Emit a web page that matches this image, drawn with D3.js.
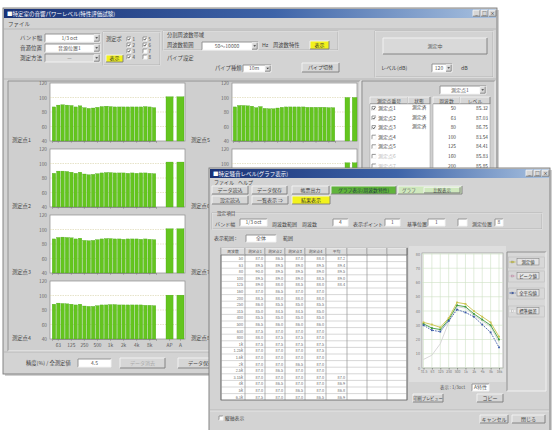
<!DOCTYPE html>
<html><head><meta charset="utf-8">
<script src="https://cdn.jsdelivr.net/npm/d3@7"></script>
<style>
body{margin:0;background:#fff;}
svg{display:block;}
text{font-family:"Noto Sans CJK JP","Noto Sans",sans-serif;}
</style>
</head><body>
<svg id="c" width="552" height="430"></svg>
<script>
// ---------------- DATA ----------------
const bandLabels = ["50","63","80","100","125","160","200","250","315","400","500","630","800","1k","1.25k","1.6k","2k","2.5k","3.15k","4k","5k","6.3k","8k","10k"];
const overallLabels = ["AP","A"];
const tickBands = ["63","125","250","500","1k","2k","4k","8k"];
const yTicks = [40,60,80,100,120];
const gridLevels = [60,80,100];
const pointNames = ["測定点1","測定点2","測定点3","測定点4","測定点5","測定点6","測定点7","測定点8"];
const levelsP1 = [87,89.5,90,89.5,89,87,88.5,86,85,85.5,86.5,87.5,88,87.5,87,87,87,87,87,87,87,87.5,87,86];
const levelsP2 = [86.5,89.5,89.5,89,88,86.5,88,85.5,84.5,85,86,87,87.5,87.5,87,87,87,86.5,87,86.5,87,87,86.5,86];
const levelsP3 = [87,89,89.5,89,88.5,87,88,85,84.5,85,86,87,87.5,87.5,87,87,86.5,87,87,87,86.5,87,86.5,86];
const levelsP4 = [88,89.5,89,88.5,88,87,88,85.5,85,85,86,87,87,87.5,87.5,87,87,87,87,87,87,86.5,86.5,86];
const levelsP5 = [87,89,89,88.5,88,86,87.5,85,84.5,84.5,85.5,86.5,87,87,87,87,87,86.5,86.5,86.5,86.5,86.5,86,86];
const levelsP6 = [86.5,88.5,89,88.5,87.5,86,87.5,85,84.5,85,85.5,86.5,87,87,86.5,87,86.5,86.5,86.5,86.5,86.5,86.5,86,85.5];
const levelsP7 = [87,89,89.5,89,88,86.5,88,85.5,85,85,86,87,87,87.5,87,87,87,87,86.5,87,86.5,87,86.5,86];
const levelsP8 = [86.5,89,89,88.5,88,86.5,87.5,85,84.5,85,86,86.5,87,87,87,86.5,87,86.5,86.5,86.5,86.5,86.5,86,85.5];
const overallP1 = [101,101], overallP2 = [102,102], overallP3 = [101,101], overallP4 = [100.5,100.5];
const overallP5 = [100,100], overallP6 = [101,101], overallP7 = [100.5,100.5], overallP8 = [100,100];

const listPoints = ["測定点1","測定点2","測定点3","測定点4","測定点5","測定点6","測定点7"];
const listStatus = ["測定済","測定済","測定済","","","",""];
const listChecked = [true,true,true,false,false,false,false];
const listFreqs = ["50","63","80","100","125","160","200","250"];
const listLevels = ["85.32","87.03","86.75","83.54","84.41","85.83","85.85","83.11"];

const tableHeaders = ["周波数","測定点1","測定点2","測定点3","測定点4","平均","","",""];
const tableFreqs = ["50","63","80","100","125","160","200","250","315","400","500","630","800","1k","1.25k","1.6k","2k","2.5k","3.15k","4k","5k","6.3k"];
const tableAvg = ["87.2","89.4","89.5","89.0","88.4","","","","","","","","","","","","","","87.0","86.9","86.8","86.9"];

const lineCats = ["31.5","63","125","250","500","1k","2k","4k","8k","16k"];
const lineYTicks = [0,10,20,30,40,50,60,70,80];
const seriesMeasured = [32,30.5,28.5,35,46,45,40,36,32,22];
const seriesPeak = [31,28,27,34,44,43,38,34,30,20];
const seriesMean = [30,26.5,25.5,33,41,39,36,30.5,25,14.5];
const seriesLow = [6,9,17,32,43,42,37,33,29,18];
const legendLabels = ["測定値","ピーク値","全平均値","標準偏差"];

// ---------------- HELPERS ----------------
const svg = d3.select("#c");
const defs = svg.append("defs");
const tg = defs.append("linearGradient").attr("id","tb");
tg.append("stop").attr("offset","0").attr("stop-color","#1a3276");
tg.append("stop").attr("offset","0.55").attr("stop-color","#3e64a8");
tg.append("stop").attr("offset","1").attr("stop-color","#a9c2e0");

function R(g,x,y,w,h,fill,stroke,sw){
  return g.append("rect").attr("x",x).attr("y",y).attr("width",w).attr("height",h)
    .attr("fill",fill||"none").attr("stroke",stroke||"none").attr("stroke-width",sw||0.8);
}
function T(g,x,y,s,size,fill,anchor){
  return g.append("text").attr("x",x).attr("y",y).text(s).attr("font-size",size||5.5)
    .attr("fill",fill||"#444").attr("text-anchor",anchor||"start");
}
function L(g,x1,y1,x2,y2,c,w){
  return g.append("line").attr("x1",x1).attr("y1",y1).attr("x2",x2).attr("y2",y2).attr("stroke",c).attr("stroke-width",w||0.8);
}
function bevel(g,x,y,w,h,fill,sunken){
  R(g,x,y,w,h,fill);
  g.append("path").attr("d",`M${x},${y+h}V${y}H${x+w}`).attr("fill","none").attr("stroke",sunken?"#8a8a8a":"#f4f4f4").attr("stroke-width",0.9);
  g.append("path").attr("d",`M${x},${y+h}H${x+w}V${y}`).attr("fill","none").attr("stroke",sunken?"#f4f4f4":"#7a7a7a").attr("stroke-width",0.9);
}
function button(g,x,y,w,h,label,fill,tc,fs){
  bevel(g,x,y,w,h,fill||"#d6d6d6",false);
  T(g,x+w/2,y+h/2+1.9,label,fs||5,tc||"#444","middle");
}
function field(g,x,y,w,h,text,drop,disabled){
  bevel(g,x,y,w,h,disabled?"#dcdcdc":"#fff",true);
  if(text) T(g,x+(drop?w/2-3:w/2),y+h/2+1.9,text,5,disabled?"#999":"#555","middle");
  if(drop){
    bevel(g,x+w-6,y+0.8,5.2,h-1.6,"#d6d6d6",false);
    g.append("path").attr("d",`M${x+w-4.6},${y+h/2-0.8}h2.6l-1.3,1.6z`).attr("fill","#333");
  }
}
function checkbox(g,x,y,checked){
  bevel(g,x,y,4,4,"#fff",true);
  if(checked) g.append("path").attr("d",`M${x+0.8},${y+2}l1,1.2l1.6,-2.4`).attr("fill","none").attr("stroke","#222").attr("stroke-width",0.7);
}
function groupBox(g,x,y,w,h){
  R(g,x,y,w,h,"none","#a8a8a8",0.7);
  R(g,x+0.7,y+0.7,w,h,"none","#f2f2f2",0.5);
}
function windowFrame(g,x,y,w,h,title){
  R(g,x+2,y+2,w,h,"#000").attr("opacity",0.18);
  R(g,x,y,w,h,"#d3d3d3","#7a7a7a",0.9);
  R(g,x+1,y+1,w-2,9,"url(#tb)");
  T(g,x+4,y+7.5,title,5.5,"#fff");
  [w-24,w-16,w-8].forEach((dx,i)=>{
    bevel(g,x+dx,y+2.2,7,6,"#d6d6d6",false);
    T(g,x+dx+3.5,y+7.2,["_","□","×"][i],4.5,"#222","middle");
  });
}

// ---------------- MAIN WINDOW ----------------
const mw = svg.append("g");
windowFrame(mw,3,8,494,366,"■特定室の音響パワーレベル(特性評価試験)");
T(mw,8,26,"ファイル",5.5,"#444");
L(mw,4,29,496,29,"#a8a8a8",0.6);

// controls
T(mw,20,40,"バンド幅",5.5); field(mw,45,34,55,8,"1/3 oct",true);
T(mw,20,50,"音源位置",5.5); field(mw,45,44,55,8,"音源位置1",true);
T(mw,20,60,"測定方法",5.5); field(mw,45,54,55,8,"ー",true,true);
groupBox(mw,103,32,57,33);
T(mw,106,41,"測定ポ",5.3);
[0,1,2,3].forEach(i=>{
  checkbox(mw,127,37+i*6,true); T(mw,132.5,41+i*6,String(i+1),4.5);
  checkbox(mw,143,37+i*6,i<2); T(mw,148.5,41+i*6,String(i+5),4.5);
});
button(mw,106,55,17,7,"表示","#f2f21c","#333");

groupBox(mw,163,31,175,19);
T(mw,167,37,"分割周波数帯域",5.3);
T(mw,167,47,"周波数範囲",5.3); field(mw,202,42,56,8,"50～10000",true);
T(mw,262,47,"Hz",5.3); T(mw,273,47,"周波数特性",5.3);
button(mw,310,41,19,8,"表示","#f2f21c","#333");
T(mw,167,60,"パイプ設定",5.3);
T(mw,215,70,"パイプ種類",5.3); field(mw,243,65,28,7,"10m",true);
button(mw,302,63,37,9,"パイプ切替");
groupBox(mw,375,31,118,46);
button(mw,383,38,104,16,"測定中","#d9d9d9","#555");
T(mw,381,70,"レベル(dB)",5.3); field(mw,432,64,20,8,"120",true); T(mw,461,70,"dB",5.3);
L(mw,4,79,496,79,"#a8a8a8",0.6);

// chart region frame
bevel(mw,8,81,352,270,"#cfcfcf",true);

function barPanel(g,px,py,pw,ph,bandRange,ovRange,vals,ov,name,nameX,showX,maxTextY){
  const y = d3.scaleLinear().domain([40,120]).range([py+ph,py]);
  const xb = d3.scaleBand().domain(bandLabels).range(bandRange).paddingInner(0.2).paddingOuter(0.05);
  const xo = d3.scaleBand().domain(overallLabels).range(ovRange).paddingInner(0.35);
  R(g,px,py,pw,ph,"#fff","#8c8c8c",0.7);
  g.append("g").selectAll("line").data(gridLevels).join("line")
    .attr("x1",px).attr("x2",px+pw).attr("y1",d=>y(d)).attr("y2",d=>y(d))
    .attr("stroke","#d6d2a6").attr("stroke-width",0.6).attr("stroke-dasharray","1.5,1");
  g.append("g").selectAll("rect").data(bandLabels).join("rect")
    .attr("x",d=>xb(d)).attr("width",xb.bandwidth())
    .attr("y",(d,i)=>y(vals[i])).attr("height",(d,i)=>y(40)-y(vals[i]))
    .attr("fill","#64c51f").attr("stroke","#44a112").attr("stroke-width",0.3);
  g.append("g").selectAll("rect").data(overallLabels).join("rect")
    .attr("x",d=>xo(d)).attr("width",xo.bandwidth())
    .attr("y",(d,i)=>y(ov[i])).attr("height",(d,i)=>y(40)-y(ov[i]))
    .attr("fill","#64c51f").attr("stroke","#44a112").attr("stroke-width",0.3);
  const visTicks = yTicks.filter(t=>y(t) < maxTextY);
  const ay = g.append("g").attr("transform",`translate(${px},0)`)
    .call(d3.axisLeft(y).tickValues(visTicks).tickSize(0).tickPadding(3));
  ay.select(".domain").remove();
  ay.selectAll("text").attr("font-size",4.8).attr("fill","#666").attr("font-family","Noto Sans, sans-serif");
  const ax = g.append("g").attr("transform",`translate(0,${py+ph})`)
    .call(d3.axisBottom(xb).tickValues(tickBands).tickSize(1.8).tickFormat(showX?(d=>d):""));
  ax.select(".domain").attr("stroke","#777").attr("stroke-width",0.6);
  ax.selectAll("line").attr("stroke","#777").attr("stroke-width",0.5);
  ax.selectAll("text").attr("font-size",4.8).attr("fill","#555").attr("font-family","Noto Sans, sans-serif");
  if(!showX) ax.selectAll("text").remove();
  if(showX){
    const ao = g.append("g").attr("transform",`translate(0,${py+ph})`)
      .call(d3.axisBottom(xo).tickSize(1.8));
    ao.select(".domain").remove();
    ao.selectAll("line").attr("stroke","#777").attr("stroke-width",0.5);
    ao.selectAll("text").attr("font-size",4.8).attr("fill","#555").attr("font-family","Noto Sans, sans-serif");
  }
  T(g,nameX,py+ph+1,name,5.3,"#444");
}
const leftLevels = [levelsP1,levelsP2,levelsP3,levelsP4];
const rightLevels = [levelsP5,levelsP6,levelsP7,levelsP8];
const leftOv = [overallP1,overallP2,overallP3,overallP4];
const rightOv = [overallP5,overallP6,overallP7,overallP8];
const panelTops = [83,149,215,281];
panelTops.forEach((top,i)=>{
  barPanel(mw,50,top,135,58,[52,156],[166,184],leftLevels[i],leftOv[i],pointNames[i],12,i===3,999);
  barPanel(mw,232,top,125,58,[233,335],[345,357],rightLevels[i],rightOv[i],pointNames[i+4],191,false,166);
});

// list panel
bevel(mw,362,81,133,270,"#d0d0d0",true);
field(mw,440,86,46,8,"測定点1",true);
bevel(mw,370,97,38,7,"#d6d6d6",false); T(mw,389,102.6,"測定点番号",4.8,"#444","middle");
bevel(mw,408,97,22,7,"#d6d6d6",false); T(mw,419,102.6,"状態",4.8,"#444","middle");
bevel(mw,433,97,27,7,"#d6d6d6",false); T(mw,446.5,102.6,"周波数",4.8,"#444","middle");
bevel(mw,460,97,30,7,"#d6d6d6",false); T(mw,475,102.6,"レベル",4.8,"#444","middle");
R(mw,370,104,60,242,"#fff","#999",0.5);
R(mw,433,104,57,242,"#fff","#999",0.5);
listPoints.forEach((p,i)=>{
  const yy = 110+i*9.6;
  checkbox(mw,372,yy-3.6,listChecked[i]);
  T(mw,378,yy,p,5,i<5?"#444":"#bbb");
  if(listStatus[i]) T(mw,412,yy-1,listStatus[i],4.8,"#444");
});
listFreqs.forEach((f,i)=>{
  const yy = 110+i*9.6;
  T(mw,456,yy,f,4.8,"#444","end");
  T(mw,488,yy,listLevels[i],4.8,"#444","end");
});

// bottom controls
L(mw,4,352,496,352,"#a8a8a8",0.6);
T(mw,26,365,"精度(%) / 全測定値",5.3);
field(mw,78,359,33,8,"4.5",false);
button(mw,120,358,45,10,"データ消去","#d6d6d6","#aaa");
button(mw,178,358,45,10,"データ保存");

// ---------------- SECOND WINDOW ----------------
const sw = svg.append("g");
windowFrame(sw,209,168,341,264,"■特定騒音レベル(グラフ表示)");
T(sw,214,184,"ファイル",5,"#444"); T(sw,238,184,"ヘルプ",5,"#444");
button(sw,212,186,36,8,"データ読込");
button(sw,252,186,35,8,"データ保存");
button(sw,292,186,37,8,"帳票出力");
button(sw,331,186,65,8,"グラフ表示(周波数特性)","#5fb33a","#234",4.8);
button(sw,398,186,64,8,"","#cfe8bd");
button(sw,424,187.3,36,5.6,"比較表示","#cfe8bd","#444",4.4);
T(sw,402,192,"グラフ",4.6,"#555");
button(sw,212,196,36,8,"設定読込");
button(sw,252,196,36,8,"一覧表示 ⇒");
button(sw,292,196,38,8,"結果表示","#f2f21c","#333");

groupBox(sw,212,213,330,16);
T(sw,217,214.5,"設定項目",4.6);
T(sw,215,225.5,"バンド幅",5); field(sw,240,219,27,7,"1/3 oct",false);
T(sw,272,225.5,"周波数範囲",5); T(sw,302,225.5,"周波数",5);
field(sw,333,219,15,7,"4",false);
T(sw,353,225.5,"表示ポイント",5); field(sw,385,219,15,7,"1",false);
T(sw,407,225.5,"基準位置",5); field(sw,428,219,17,7,"1",false);
field(sw,458,219,9,7,"",false);
T(sw,472,225.5,"測定位置",5); field(sw,495,219,8,7,"8",false);

T(sw,214,240,"表示範囲 :",5); field(sw,246,235,30,7,"全体",false);
T(sw,283,240,"範囲",5);

// table
const tx = [221,245,265,285,305,326,347,367,387,407];
R(sw,221,248,186,152,"#fff","#555",0.7);
const rowH = 6.6, headH = 7;
tableHeaders.forEach((h,i)=>{
  bevel(sw,tx[i],248,tx[i+1]-tx[i],headH,"#dcdcdc",false);
  T(sw,(tx[i]+tx[i+1])/2,253.2,h,3.8,"#555","middle");
});
tx.forEach(x=>L(sw,x,248,x,400,"#666",0.5));
tableFreqs.forEach((f,r)=>{
  const yy = 248+headH+(r+1)*rowH;
  L(sw,221,yy,407,yy,"#9a9a9a",0.4);
  const ty = yy-1.6;
  T(sw,243,ty,f,3.8,"#666","end");
  [levelsP1,levelsP2,levelsP3,levelsP4].forEach((arr,c)=>{
    T(sw,tx[c+2]-2,ty,arr[r].toFixed(1),3.8,"#666","end");
  });
  if(tableAvg[r]) T(sw,tx[6]-2,ty,tableAvg[r],3.8,"#666","end");
});

// line chart
R(sw,409,246,97,136,"#dedede");
const lx0=422, lx1=503, ly0=253, ly1=368;
R(sw,lx0,ly0,lx1-lx0,ly1-ly0,"#fff","#8a8a8a",0.6);
const lx = d3.scalePoint().domain(lineCats).range([lx0+1.5,lx1-4]);
const ly = d3.scaleLinear().domain([0,80]).range([ly1,ly0+1]);
sw.append("g").selectAll("line").data(lineYTicks).join("line")
  .attr("x1",lx0).attr("x2",lx1).attr("y1",d=>ly(d)).attr("y2",d=>ly(d))
  .attr("stroke","#cfe0c4").attr("stroke-width",0.6);
sw.append("g").selectAll("line").data(lineCats).join("line")
  .attr("x1",d=>lx(d)).attr("x2",d=>lx(d)).attr("y1",ly0).attr("y2",ly1)
  .attr("stroke","#cfe0c4").attr("stroke-width",0.6);
const lyAx = sw.append("g").attr("transform",`translate(${lx0},0)`)
  .call(d3.axisLeft(ly).tickValues(lineYTicks).tickSize(0).tickPadding(2));
lyAx.select(".domain").remove();
lyAx.selectAll("text").attr("font-size",3.8).attr("fill","#777").attr("font-family","Noto Sans, sans-serif");
const lxAx = sw.append("g").attr("transform",`translate(0,${ly1})`)
  .call(d3.axisBottom(lx).tickSize(1.5).tickPadding(1.5));
lxAx.select(".domain").remove();
lxAx.selectAll("line").attr("stroke","#888");
lxAx.selectAll("text").attr("font-size",3.4).attr("fill","#777").attr("font-family","Noto Sans, sans-serif");

const line = d3.line().x((d,i)=>lx(lineCats[i])).y(d=>ly(d));
const seriesDefs = [
  {data:seriesLow, color:"#d4d4d4", dash:null, mk:false},
  {data:seriesPeak, color:"#3c9a3c", dash:null, mk:true},
  {data:seriesMeasured, color:"#c9c24a", dash:null, mk:true},
  {data:seriesMean, color:"#3a58a8", dash:"1.6,1", mk:true}
];
seriesDefs.forEach(s=>{
  sw.append("path").datum(s.data).attr("d",line).attr("fill","none")
    .attr("stroke",s.color).attr("stroke-width",0.9).attr("stroke-dasharray",s.dash);
  if(s.mk) sw.append("g").selectAll("rect").data(s.data).join("rect")
    .attr("x",(d,i)=>lx(lineCats[i])-0.9).attr("y",d=>ly(d)-0.9)
    .attr("width",1.8).attr("height",1.8).attr("fill",s.color);
});

// legend
bevel(sw,507,252,39,139,"#d8d8d8",true);
const legendColors = ["#c9c24a","#e0b0c8","#3a58a8","#ffffff"];
legendLabels.forEach((lab,i)=>{
  const yy = [262,276,293,311][i];
  R(sw,508.5,yy-5,36,11,"none","#b8b8b8",0.5);
  L(sw,509.5,yy,515.5,yy,legendColors[i],1).attr("stroke-dasharray",i===2?"1.6,1":null);
  R(sw,511.5,yy-1,2,2,legendColors[i],"#888",0.3);
  R(sw,517,yy-3.5,22,6.5,"#e4e4e4","#777",0.5);
  T(sw,528,yy+1.6,lab,4.4,"#333","middle");
});

T(sw,440,389,"表示 : 1/3oct",4.4,"#555");
field(sw,472,384,17,7,"A特性",false);
button(sw,413,394,30,8,"印刷プレビュー","#d6d6d6","#444",4.2);
button(sw,477,394,26,8,"コピー");
L(sw,210,410,549,410,"#a8a8a8",0.6);
L(sw,210,411,549,411,"#f2f2f2",0.6);
checkbox(sw,219,416,false); T(sw,225,420,"縦軸表示",4.8,"#444");
button(sw,480,415,28,8,"キャンセル");
button(sw,512,415,33,8,"閉じる");
</script>
</body></html>
